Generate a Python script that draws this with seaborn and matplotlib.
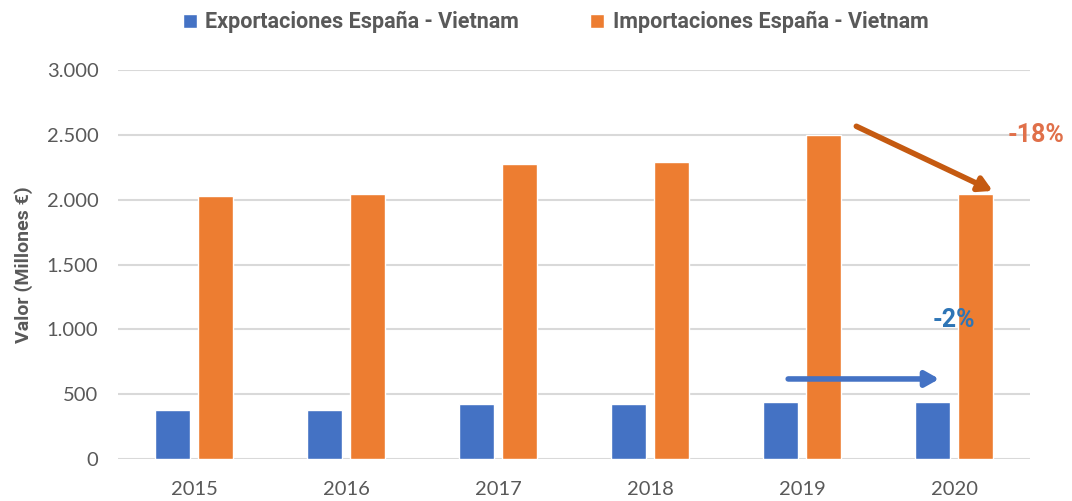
import matplotlib
matplotlib.use("Agg")
import matplotlib.pyplot as plt
import seaborn as sns
import pandas as pd

years = ["2015", "2016", "2017", "2018", "2019", "2020"]
exportaciones = [376, 376, 420, 420, 440, 436]
importaciones = [2026, 2046, 2273, 2294, 2500, 2044]
series_names = ["Exportaciones España - Vietnam", "Importaciones España - Vietnam"]
colors = ["#4472C4", "#ED7D31"]

df = pd.DataFrame({
    "year": years * 2,
    "valor": exportaciones + importaciones,
    "serie": [series_names[0]] * len(years) + [series_names[1]] * len(years),
})

sns.set_style("white")
plt.rcParams["font.family"] = ["Lato", "DejaVu Sans"]
gray = "#595959"
bold_font = ["Roboto", "DejaVu Sans"]

fig = plt.figure(figsize=(10.72, 5.01), dpi=100)
ax = fig.add_axes([0.110, 0.084, 0.851, 0.776])
sns.barplot(data=df, x="year", y="valor", hue="serie", palette=colors,
            width=0.56, gap=0.18, saturation=1, ax=ax)

ax.set_ylim(0, 3000)
ax.set_xlim(-0.5, 5.5)
ax.set_yticks(range(0, 3001, 500))
ax.set_yticklabels([f"{v:,}".replace(",", ".") for v in range(0, 3001, 500)])
ax.yaxis.grid(True, color="#D9D9D9", linewidth=1.5)
ax.set_axisbelow(True)
for s in ax.spines.values():
    s.set_visible(False)
ax.tick_params(axis="y", length=0, labelsize=14.5, colors=gray, pad=14)
ax.tick_params(axis="x", length=0, labelsize=14.5, colors=gray, pad=16)
ax.set_xlabel("")
ax.set_ylabel("Valor (Millones €)", fontsize=14, fontweight="bold", color=gray,
              labelpad=10, family=bold_font)

handles, labels = ax.get_legend_handles_labels()
ax.legend(handles, labels, loc="lower center", bbox_to_anchor=(0.48, 1.045), ncol=2,
          frameon=False, prop={"weight": "bold", "size": 15.5, "family": bold_font},
          handlelength=0.65, handleheight=0.65, handletextpad=0.4, columnspacing=3.3,
          labelcolor=gray)

# flechas de variacion 2019 -> 2020
ax.annotate("", xy=(5.27, 2059), xytext=(4.34, 2576),
            arrowprops=dict(arrowstyle="-|>,head_length=0.8,head_width=0.45",
                            color="#C55A11", lw=4), annotation_clip=False)
ax.annotate("", xy=(4.92, 617), xytext=(3.89, 617),
            arrowprops=dict(arrowstyle="-|>,head_length=0.8,head_width=0.45",
                            color="#4472C4", lw=4), annotation_clip=False)
ax.text(5.54, 2500, "-18%", color="#E0704A", fontsize=18, fontweight="bold",
        family=bold_font, ha="center", va="center", clip_on=False)
ax.text(5.0, 1072, "-2%", color="#2E75B6", fontsize=18, fontweight="bold",
        family=bold_font, ha="center", va="center")

fig.savefig("out.png", dpi=100)
